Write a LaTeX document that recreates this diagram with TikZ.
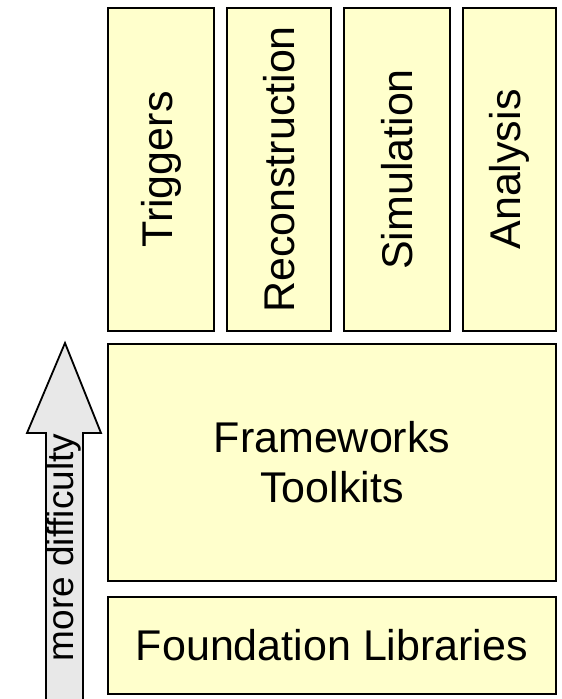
\documentclass[tikz,border=0pt]{standalone}
\usepackage{fontspec}
\setmainfont{Liberation Sans}
\definecolor{boxfill}{HTML}{FFFFCC}
\definecolor{arrowfill}{HTML}{E8E8E8}
\tikzset{
  layer/.style={draw,line width=2.5pt,fill=boxfill,inner sep=0pt,align=center,
    font=\fontsize{43}{50}\selectfont},
  vlayer/.style={layer,rotate=90,minimum width=323pt,minimum height=#1}
}
\begin{document}
\begin{tikzpicture}[x=1pt,y=1pt]
  \useasboundingbox (0,0) rectangle (562,699);
  \clip (0,0) rectangle (562,699);
  % application blocks
  \node[vlayer=106pt] (trig) at (161,529.5) {Triggers};
  \node[vlayer=104pt] (reco) at (279,529.5) {Reconstruction};
  \node[vlayer=106pt] (simu) at (397,529.5) {Simulation};
  \node[vlayer=93pt]  (ana)  at (509.5,529.5) {Analysis};
  % common layers
  \node[layer,minimum width=448pt,minimum height=237pt] (frame) at (332,236.5) {Frameworks\\Toolkits};
  \node[layer,minimum width=448pt,minimum height=97pt] (found) at (332,53.5) {Foundation Libraries};
  % difficulty arrow
  \draw[line width=1.8pt,fill=arrowfill,line join=miter]
    (46,-5) -- (46,266) -- (27,266) -- (65,356) -- (101,266) -- (83,266) -- (83,-5) -- cycle;
  \node[rotate=90,font=\fontsize{37}{40}\selectfont] (diff) at (64,151.5) {more difficulty};
\end{tikzpicture}
\end{document}
